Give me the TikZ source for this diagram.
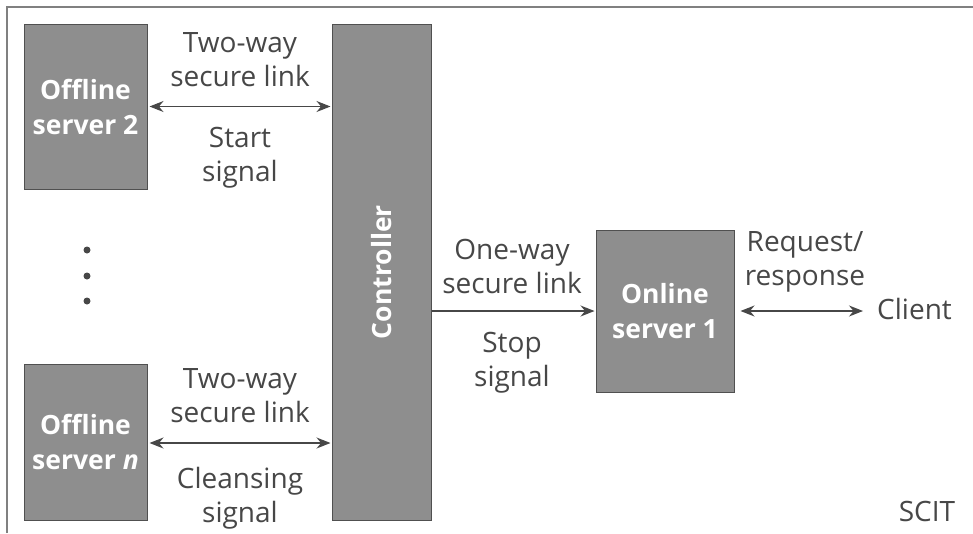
\documentclass[tikz,border=0pt]{standalone}
\usepackage{fontspec}
\setmainfont{Open Sans}
\usetikzlibrary{arrows.meta}
\definecolor{boxfill}{HTML}{8E8E8E}
\definecolor{boxline}{HTML}{505050}
\definecolor{txt}{HTML}{474747}
\definecolor{frame}{HTML}{808080}
\tikzset{
  srv/.style={draw=boxline, line width=1pt, fill=boxfill, inner sep=0pt, text=white,
    font=\fontsize{26.5}{35}\selectfont\bfseries, align=center},
  lbl/.style={text=txt, font=\fontsize{28}{34}\selectfont, align=center, inner sep=0pt},
  link/.style={draw=txt, line width=1.3pt, {Stealth[length=14pt,width=11pt]}-{Stealth[length=14pt,width=11pt]}},
  onelink/.style={draw=txt, line width=1.3pt, -{Stealth[length=14pt,width=11pt]}},
  dotm/.style={circle, fill=txt, inner sep=0pt, minimum size=7pt}
}
\begin{document}
\begin{tikzpicture}[x=1pt,y=-1pt]
\useasboundingbox (0,0) rectangle (973,533);
\fill[white] (0,0) rectangle (973,533);
\draw[frame, line width=2.2pt] (7,533) -- (7,7) -- (973,7);

\node[srv, minimum width=123pt, minimum height=165pt] (off2) at (85.5,106.5) {Offline\\server 2};
\node[srv, minimum width=123pt, minimum height=156pt] (offn) at (85.5,442) {Offline\\server \textit{n}};
\node[srv, minimum width=99pt, minimum height=496pt] (ctrl) at (381.5,272) {};
\node[text=white, font=\fontsize{26.5}{35}\selectfont\bfseries, rotate=90] (ctrltext) at (ctrl.center) {Controller};
\node[srv, minimum width=138pt, minimum height=162pt] (on) at (665,311) {Online\\server 1};

\node[dotm] (d1) at (87,250) {};
\node[dotm] (d2) at (87,276) {};
\node[dotm] (d3) at (87,301) {};

\node[lbl] (t1) at (240,60) {Two-way\\secure link};
\node[lbl] (s1) at (240,158) {Start\\signal};
\node[lbl] (t2) at (240,396) {Two-way\\secure link};
\node[lbl] (s2) at (240,498) {Cleansing\\signal};
\node[lbl] (t3) at (512,266) {One-way\\secure link};
\node[lbl] (s3) at (512,363) {Stop\\signal};
\node[lbl] (rr) at (805,262) {Request/\\response};
\node[lbl, anchor=west] (client) at (877,309) {Client};
\node[lbl] (scit) at (927,511) {SCIT};

\draw[link, shorten <=2pt, shorten >=1pt] (off2.east) -- (off2.east -| ctrl.west);
\draw[link, shorten <=2pt, shorten >=1pt] (offn.east |- 0,443) -- (ctrl.west |- 0,443);
\draw[onelink, shorten >=1pt] (ctrl.east |- on.west) -- (on.west);
\draw[link, shorten <=6pt, shorten >=14pt] (on.east) -- (client.west |- on.east);
\end{tikzpicture}
\end{document}
